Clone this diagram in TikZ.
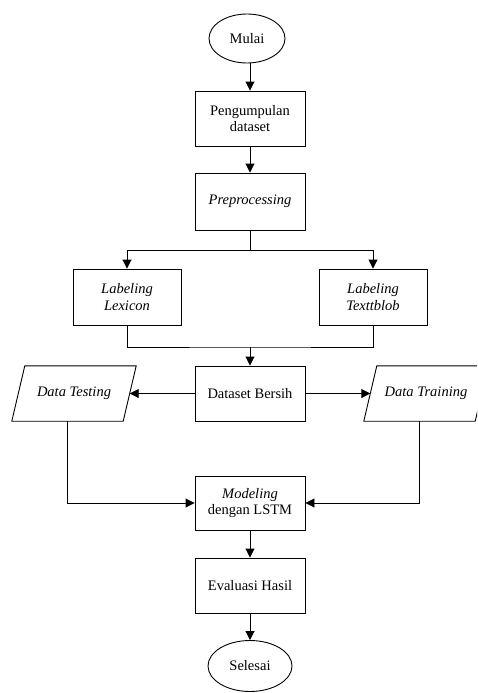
\documentclass[tikz,border=0pt]{standalone}
\usepackage{fontspec}
\setmainfont{Liberation Serif}
\usetikzlibrary{arrows.meta, shapes.geometric}

\tikzset{
  box/.style={draw, line width=0.9pt, minimum width=110pt, minimum height=55pt, align=center, inner sep=2pt},
  oval/.style={draw, ellipse, line width=0.9pt, inner sep=1pt},
  iobox/.style={minimum width=111pt, minimum height=55pt, inner sep=1pt},
  arr/.style={line width=0.9pt, -{Triangle[width=9pt,length=9pt]}},
  ln/.style={line width=0.9pt}
}

\begin{document}
\begin{tikzpicture}[x=1pt, y=-1pt, font=\fontsize{14.5}{16.7}\selectfont]
      \useasboundingbox (0,0) rectangle (477,693);
      \clip (0,0) rectangle (477,693);

      % Define nodes
      \node[oval, minimum width=76pt, minimum height=49pt] (mulai) at (247, 38.5) {Mulai};
      \node[box] (kumpul) at (250, 118.5) {Pengumpulan\\dataset};
      \node[box, minimum height=57pt] (prepro) at (250, 201.5) {\textit{Preprocessing}};
      \node[box, minimum width=108pt, minimum height=56pt] (lexicon) at (127, 297) {\textit{Labeling}\\\textit{Lexicon}};
      \node[box, minimum width=108pt, minimum height=56pt] (textblob) at (373, 297) {\textit{Labeling}\\\textit{Texttblob}};
      \node[box] (bersih) at (250, 393.5) {Dataset Bersih};
      \node[iobox] (testing) at (74, 393.5) {\textit{Data Testing}};
      \node[iobox] (training) at (426, 393.5) {\textit{Data Training}};
      \node[box, minimum height=54pt] (modeling) at (250, 503) {\textit{Modeling}\\dengan LSTM};
      \node[box] (evaluasi) at (250, 585.5) {Evaluasi Hasil};
      \node[oval, minimum width=84pt, minimum height=51pt] (selesai) at (250, 666) {Selesai};

      % Draw data shapes (slanted)
      \foreach \n in {testing, training} {
        \draw[ln] ([xshift=6.5pt]\n.north west) -- ([xshift=6.5pt]\n.north east)
          -- ([xshift=-6.5pt]\n.south east) -- ([xshift=-6.5pt]\n.south west) -- cycle;
      }

      % Define points
      \coordinate (split) at (250, 250);
      \coordinate (join) at (250, 347);

      % Draw connectors
      \draw[arr] (mulai.south -| kumpul) -- (kumpul);
      \draw[arr] (kumpul) -- (prepro);
      \draw[ln] (prepro) -- (split);
      \draw[arr] (split) -| (lexicon);
      \draw[arr] (split) -| (textblob);
      \draw[ln] (lexicon) |- (join) -| (textblob);
      \draw[arr] (join) -- (bersih);
      \draw[arr] (bersih) -- (testing.east);
      \draw[arr] (bersih) -- (training.west);
      \draw[arr] ([xshift=-6.5pt]testing.south) |- (modeling);
      \draw[arr] ([xshift=-6.5pt]training.south) |- (modeling);
      \draw[arr] (modeling) -- (evaluasi);
      \draw[arr] (evaluasi) -- (selesai);
  \end{tikzpicture}
\end{document}
